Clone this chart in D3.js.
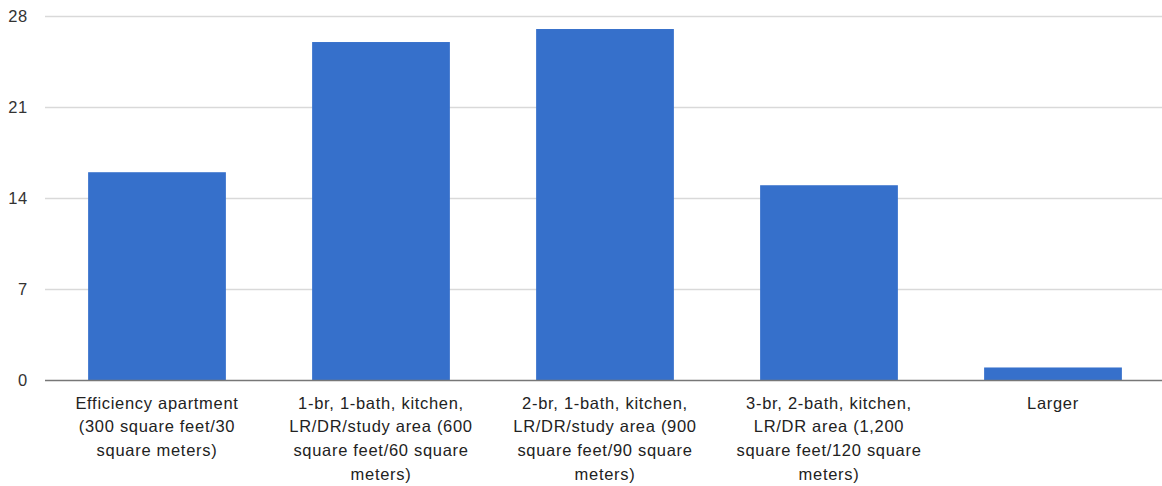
<!DOCTYPE html>
<html>
<head>
<meta charset="utf-8">
<script src="https://cdn.jsdelivr.net/npm/d3@7"></script>
<style>
  html, body { margin: 0; padding: 0; background: #fff; }
  svg { display: block; }
  text { font-family: "Liberation Sans", Arial, sans-serif; }
</style>
</head>
<body>
<svg id="chart" width="1162" height="486"></svg>
<script>
const categories = [
  "Efficiency apartment (300 square feet/30 square meters)",
  "1-br, 1-bath, kitchen, LR/DR/study area (600 square feet/60 square meters)",
  "2-br, 1-bath, kitchen, LR/DR/study area (900 square feet/90 square meters)",
  "3-br, 2-bath, kitchen, LR/DR area (1,200 square feet/120 square meters)",
  "Larger"
];
const values = [16, 26, 27, 15, 1];
const yTicks = [0, 7, 14, 21, 28];

const FS = 16.5, LS = 0.7;
const svg = d3.select("#chart");
const x = d3.scaleBand().domain(categories).range([45, 1165]).paddingInner(0.385).paddingOuter(0.1925);
const y = d3.scaleLinear().domain([0, 28]).range([380.5, 16]);

// gridlines
svg.append("g").selectAll("line").data(yTicks.filter(d => d !== 0)).join("line")
  .attr("x1", 45).attr("x2", 1162)
  .attr("y1", d => Math.round(y(d)) + 0.5).attr("y2", d => Math.round(y(d)) + 0.5)
  .attr("stroke", "#d9d9d9").attr("stroke-width", 1.5);

// y tick labels
svg.append("g").selectAll("text").data(yTicks).join("text")
  .attr("x", 28).attr("y", d => y(d)).attr("dy", "0.35em")
  .attr("text-anchor", "end").attr("font-size", FS).attr("letter-spacing", LS).attr("fill", "#333")
  .text(d => d);

// bars
svg.append("g").selectAll("rect").data(values).join("rect")
  .attr("x", (d, i) => x(categories[i]))
  .attr("width", x.bandwidth())
  .attr("y", d => y(d))
  .attr("height", d => y(0) - y(d))
  .attr("fill", "#3670cb");

// baseline
svg.append("line").attr("x1", 45).attr("x2", 1162)
  .attr("y1", y(0)).attr("y2", y(0))
  .attr("stroke", "#777").attr("stroke-width", 1.5);

// x labels with wrapping
const maxW = 197;
const g = svg.append("g");
categories.forEach((c, i) => {
  const cx = x(c) + x.bandwidth() / 2;
  const t = g.append("text").attr("text-anchor", "middle").attr("font-size", FS)
    .attr("letter-spacing", LS).attr("fill", "#222").attr("x", cx);
  const words = c.split(" ");
  let lines = [], line = [];
  const probe = g.append("text").attr("font-size", FS).attr("letter-spacing", LS);
  words.forEach(w => {
    const test = line.concat(w).join(" ");
    probe.text(test);
    if (probe.node().getComputedTextLength() > maxW && line.length) {
      lines.push(line.join(" "));
      line = [w];
    } else line.push(w);
  });
  lines.push(line.join(" "));
  probe.remove();
  lines.forEach((l, k) => {
    t.append("tspan").attr("x", cx).attr("y", 408.5 + k * 23.8).text(l);
  });
});
</script>
</body>
</html>
